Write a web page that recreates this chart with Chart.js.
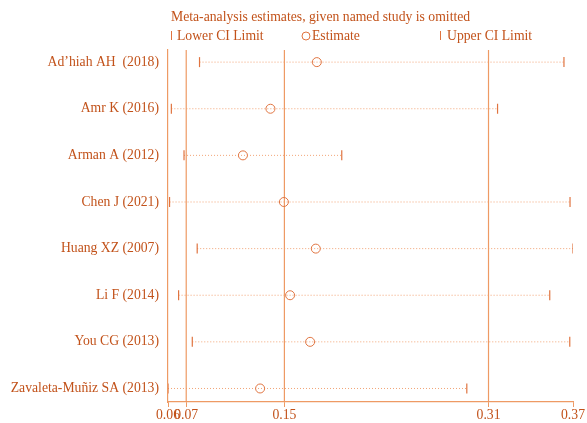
<!DOCTYPE html>
<html>
<head>
<meta charset="utf-8">
<script src="https://cdn.jsdelivr.net/npm/chart.js@4.4.1/dist/chart.umd.min.js"></script>
<style>
  html, body { margin: 0; padding: 0; background: #fff; }
  #wrap { position: relative; width: 587px; height: 423px; }
</style>
</head>
<body>
<div id="wrap"><canvas id="chart" width="587" height="423"></canvas></div>
<script>
// study omitted, in plot order (top to bottom)
const studies = [
  "Ad\u2019hiah AH  (2018)",
  "Amr K (2016)",
  "Arman A (2012)",
  "Chen J (2021)",
  "Huang XZ (2007)",
  "Li F (2014)",
  "You CG (2013)",
  "Zavaleta-Muñiz SA (2013)"
];
const lowerCI  = [0.0839, 0.0621, 0.0719, 0.0607, 0.0821, 0.0677, 0.0783, 0.0595];
const estimate = [0.1747, 0.1388, 0.1175, 0.1492, 0.1739, 0.1540, 0.1695, 0.1308];
const upperCI  = [0.3660, 0.3146, 0.1940, 0.3707, 0.3730, 0.3550, 0.3705, 0.2908];

// overall pooled result (vertical reference lines)
const overallLower = 0.0736;
const overallEst   = 0.1496;
const overallUpper = 0.3076;

// x axis ticks: min lower, overall lower / est / upper, max upper
const xTicks      = [0.0595, 0.0736, 0.1496, 0.3076, 0.3730];
const xTickLabels = ["0.06", "0.07", "0.15", "0.31", "0.37"];

const TXT = "#c2521a";
const LINE = "#ee9a64";
const DOT = "#f2a476";
const MARK = "#e07440";
const FONT = "'Liberation Serif', 'DejaVu Serif', serif";
const FS = 13.7;

const yMin = -0.26, yMax = 7.29;

const rows = studies.map((s, i) => i);

// dotted CI spans, one per study
const spanSets = rows.map(i => ({
  type: "scatter",
  data: [{ x: lowerCI[i], y: i }, { x: upperCI[i], y: i }],
  showLine: true,
  borderColor: DOT,
  borderWidth: 1,
  borderDash: [1, 2],
  pointRadius: 0,
  order: 5
}));

// overall reference lines
const refSets = [overallLower, overallEst, overallUpper].map(v => ({
  type: "scatter",
  data: [{ x: v, y: yMin }, { x: v, y: yMax }],
  showLine: true,
  borderColor: LINE,
  borderWidth: 1.2,
  pointRadius: 0,
  order: 4
}));

const markSets = [
  {
    type: "scatter",
    data: rows.map(i => ({ x: lowerCI[i], y: i })),
    pointStyle: "line",
    rotation: 90,
    pointRadius: 5,
    borderColor: MARK,
    borderWidth: 1.2,
    order: 1
  },
  {
    type: "scatter",
    data: rows.map(i => ({ x: upperCI[i], y: i })),
    pointStyle: "line",
    rotation: 90,
    pointRadius: 5,
    borderColor: MARK,
    borderWidth: 1.2,
    order: 1
  },
  {
    type: "scatter",
    data: rows.map(i => ({ x: estimate[i], y: i })),
    pointStyle: "circle",
    pointRadius: 4.5,
    backgroundColor: "rgba(255,255,255,0)",
    borderColor: MARK,
    borderWidth: 1,
    order: 1
  }
];

// title + legend row drawn above the plot
const headerPlugin = {
  id: "header",
  afterDraw(chart){
    const ctx = chart.ctx;
    ctx.save();
    ctx.fillStyle = TXT;
    ctx.textBaseline = "middle";
    ctx.textAlign = "left";
    ctx.font = FS + "px " + FONT;
    ctx.fillText("Meta-analysis estimates, given named study is omitted", 171, 17);
    ctx.fillText("Lower CI Limit", 177, 36);
    ctx.fillText("Estimate", 312, 36);
    ctx.fillText("Upper CI Limit", 447, 36);
    ctx.strokeStyle = MARK;
    ctx.lineWidth = 1;
    ctx.beginPath();
    ctx.moveTo(171.5, 31); ctx.lineTo(171.5, 40);
    ctx.moveTo(440.5, 31); ctx.lineTo(440.5, 40);
    ctx.stroke();
    ctx.beginPath();
    ctx.arc(306, 36, 4, 0, Math.PI * 2);
    ctx.stroke();
    ctx.restore();
  }
};

new Chart(document.getElementById("chart"), {
  type: "scatter",
  data: { datasets: [...refSets, ...spanSets, ...markSets] },
  options: {
    responsive: false,
    animation: false,
    layout: { padding: { top: 50, right: 14, left: 0, bottom: 0 } },
    plugins: {
      legend: { display: false },
      tooltip: { enabled: false }
    },
    scales: {
      x: {
        type: "linear",
        min: xTicks[0],
        max: xTicks[xTicks.length - 1],
        afterBuildTicks: s => { s.ticks = xTicks.map(v => ({ value: v })); },
        afterFit: s => { s.height = 21; },
        ticks: {
          color: TXT,
          font: { family: FONT, size: FS },
          padding: 0,
          maxRotation: 0,
          autoSkip: false,
          callback: (v, idx) => xTickLabels[idx]
        },
        grid: { drawOnChartArea: false, drawTicks: true, tickLength: 5, color: LINE, lineWidth: 1 },
        border: { display: true, color: LINE, width: 1.2 }
      },
      y: {
        type: "linear",
        reverse: true,
        min: yMin,
        max: yMax,
        afterBuildTicks: s => { s.ticks = rows.map(v => ({ value: v })); },
        afterFit: s => { s.width = 168; },
        ticks: {
          color: TXT,
          font: { family: FONT, size: FS },
          padding: 9,
          autoSkip: false,
          callback: v => studies[v]
        },
        grid: { display: false, drawTicks: false },
        border: { display: true, color: LINE, width: 1.2 }
      }
    }
  },
  plugins: [headerPlugin]
});
</script>
</body>
</html>
